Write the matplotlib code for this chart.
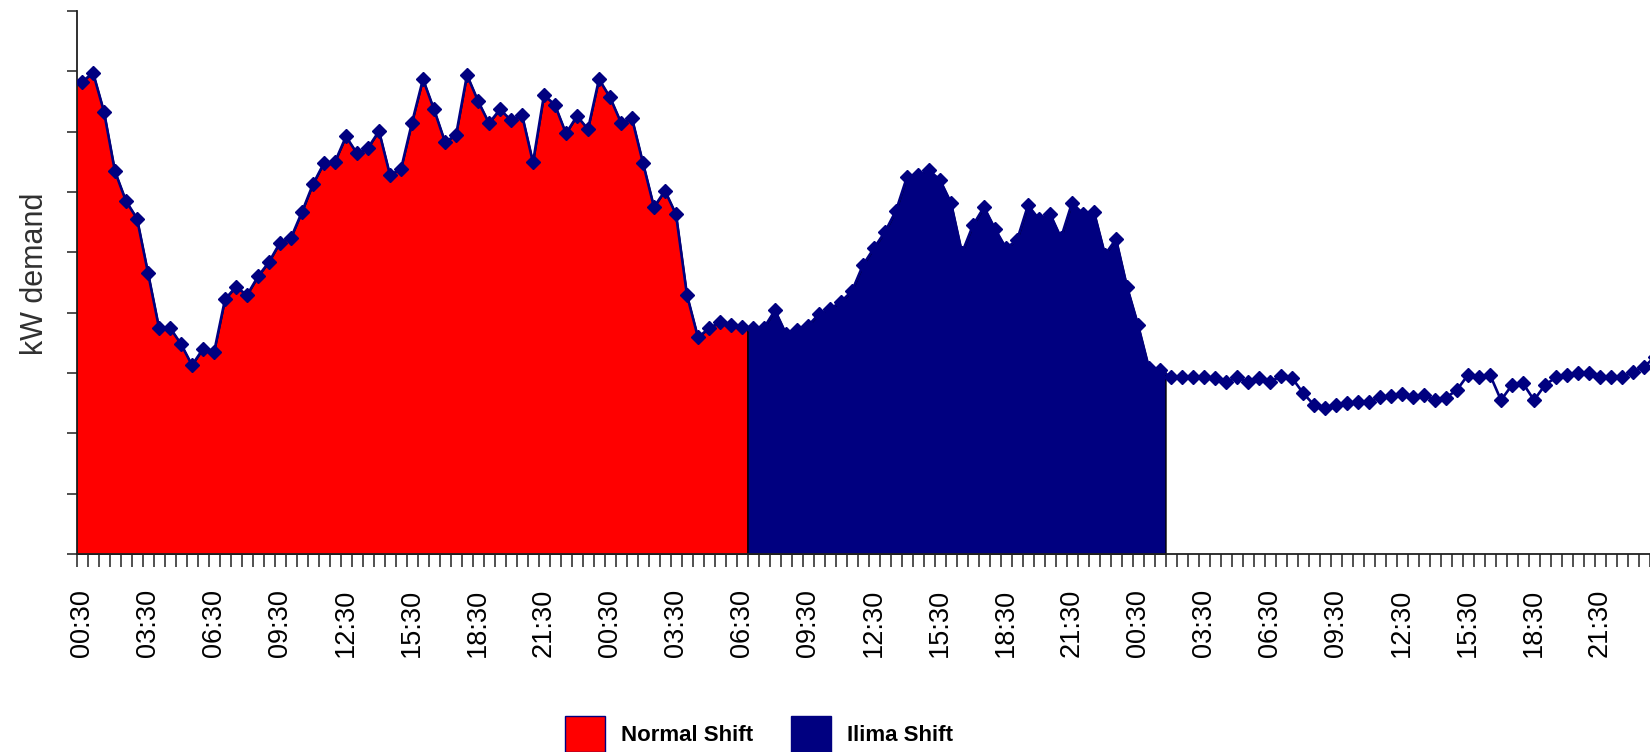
import numpy as np
import matplotlib
matplotlib.use("Agg")
import matplotlib.pyplot as plt
from matplotlib.patches import Patch

plt.rcParams['font.family'] = ['Liberation Sans', 'DejaVu Sans']

# half-hourly kW demand (3 days, 00:30 .. 24:00)
normal_kw = [782, 798, 733, 634, 585, 556, 466, 375, 375, 348,
             313, 340, 334, 422, 443, 429, 460, 484, 516, 524,
             567, 613, 648, 650, 692, 664, 673, 701, 628, 638,
             715, 787, 737, 683, 694, 794, 751, 714, 737, 719,
             728, 649, 761, 744, 697, 726, 704, 787, 757, 715,
             722, 648, 575, 602, 563, 429, 359, 374, 384, 380,
             377]
ilima_kw = [375, 375, 404, 365, 371, 378, 398, 406, 418, 436,
            479, 507, 534, 569, 625, 628, 636, 620, 582, 499,
            545, 575, 539, 507, 520, 578, 555, 564, 524, 582,
            564, 567, 496, 522, 443, 380, 308, 305]
rest_kw = [293, 293, 293, 293, 292, 285, 293, 285, 292, 285,
           295, 292, 267, 247, 242, 247, 250, 252, 252, 260,
           262, 265, 260, 264, 255, 259, 272, 297, 293, 297,
           255, 280, 283, 255, 280, 293, 297, 300, 300, 293,
           293, 293, 302, 310, 327]

tick_labels = ["00:30", "03:30", "06:30", "09:30",
               "12:30", "15:30", "18:30", "21:30"] * 3

RED = "#FF0000"
NAVY = "#000080"

demand = np.array(normal_kw + ilima_kw + rest_kw)
x = np.arange(len(demand))
n1 = len(normal_kw)
n2 = n1 + len(ilima_kw)

fig = plt.figure(figsize=(16.5, 7.52), dpi=100)
ax = fig.add_axes([76.5 / 1650, 198 / 752, 1584 / 1650, 543 / 752])

# areas stretch half a category past their first/last point
xr = np.concatenate([[-0.5], x[:n1], [n1 - 0.5]])
yr = np.concatenate([[normal_kw[0]], normal_kw, [normal_kw[-1]]])
ax.fill_between(xr, 0, yr, facecolor=RED, edgecolor="black", linewidth=1, zorder=1)

xn = np.concatenate([[n1 - 0.5], x[n1:n2], [n2 - 0.5]])
yn = np.concatenate([[ilima_kw[0]], ilima_kw, [ilima_kw[-1]]])
ax.fill_between(xn, 0, yn, facecolor=NAVY, edgecolor="black", linewidth=1, zorder=1)

ax.plot(x, demand, color=NAVY, lw=1.9, marker="D", ms=7.2, mec=NAVY, mfc=NAVY, zorder=3)

ax.set_xlim(-0.5, len(demand) - 0.5)
ax.set_ylim(0, 900)

ax.spines['top'].set_visible(False)
ax.spines['right'].set_visible(False)
for s in ['left', 'bottom']:
    ax.spines[s].set_color('#202020')
    ax.spines[s].set_linewidth(1.3)

ax.set_yticks(np.arange(0, 901, 100))
ax.tick_params(axis='y', which='major', length=7.5, width=1.1, color='#202020', labelleft=False)

ax.set_xticks(np.arange(0, len(demand), 6))
ax.set_xticklabels(tick_labels, rotation=90, fontsize=19.5)
ax.set_xticks(np.arange(-0.5, len(demand), 1), minor=True)
ax.tick_params(axis='x', which='major', length=0, pad=25)
ax.tick_params(axis='x', which='minor', length=9, width=1.1, color='#202020')

fig.text(35 / 1650, 1 - 274 / 752, "kW demand", rotation=90, ha='center', va='center',
         fontsize=22, color='#303030')

handles = [Patch(facecolor=RED, edgecolor=NAVY, linewidth=1),
           Patch(facecolor=NAVY, edgecolor=NAVY, linewidth=1)]
fig.legend(handles, ["Normal Shift", "Ilima Shift"], loc='upper left',
           bbox_to_anchor=(565 / 1650, 1 - 716 / 752), ncol=2, frameon=False,
           borderpad=0, borderaxespad=0, handlelength=1.8, handleheight=2.1,
           handletextpad=0.72, columnspacing=1.7,
           prop={'weight': 'bold', 'size': 16})

fig.savefig("out.png", dpi=100)
